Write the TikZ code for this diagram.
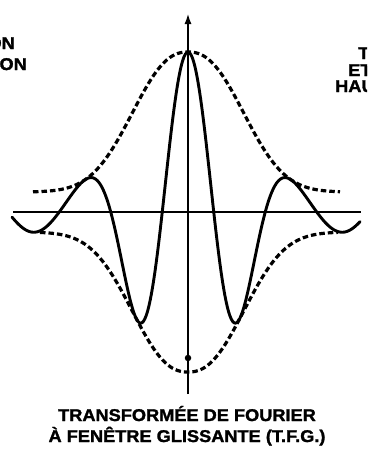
\documentclass[tikz,border=0pt]{standalone}
\usepackage{fontspec}
\setmainfont{Liberation Sans}[BoldFeatures={FakeBold=1.6, FakeStretch=1.07}]
\usetikzlibrary{arrows.meta}
\tikzset{
  declare function={
    env(\t)=20+140*exp(-((abs(\t)+0.01)/70.6)^2.36);
    wav(\t)=env(\t)*cos(3.49515*\t);
  },
  curve/.style={line width=2.9pt, line join=round, line cap=round},
  envline/.style={line width=3.2pt, dash pattern=on 5.5pt off 3pt},
  axis/.style={line width=2.3pt},
  lbl/.style={font=\fontsize{17}{20}\selectfont\bfseries, inner sep=0pt, text=black},
}
\begin{document}
\begin{tikzpicture}[x=1pt,y=-1pt]
\useasboundingbox (0,0) rectangle (367,455);
\fill[white] (0,0) rectangle (367,455);
\clip (0,0) rectangle (367,455);
% axes
\coordinate (xl) at (13,212);
\coordinate (xr) at (361,212);
\coordinate (yb) at (188,394);
\coordinate (yt) at (188,13);
\draw[axis] (xl) -- (xr);
\draw[axis, -{Latex[length=11pt,width=7pt]}] (yb) -- (yt);
\node[fill=black, circle, inner sep=0pt, minimum size=6.5pt] (bead) at (188,358) {};
% envelope
\draw[envline] plot[domain=-155:152, samples=120, smooth, variable=\t] ({188+\t},{212-env(\t)});
\draw[envline] plot[domain=-148:150, samples=120, smooth, variable=\t] ({188+\t},{212+env(\t)});
% wavelet
\draw[curve] plot[domain=-176:172, samples=250, smooth, variable=\t] ({188+\t},{212-wav(\t)});
% texts
\node[lbl, anchor=base east] (tl1) at (15,49) {ON};
\node[lbl, anchor=base east] (tl2) at (27,70) {ION};
\node[lbl, anchor=base west] (tr1) at (358,59) {T};
\node[lbl, anchor=base west] (tr2) at (348,76) {ET};
\node[lbl, anchor=base west] (tr3) at (335,92) {HAU};
\node[lbl, anchor=base] (b1) at (187,421) {TRANSFORMÉE DE FOURIER};
\node[lbl, anchor=base] (b2) at (187,442) {À FENÊTRE GLISSANTE (T.F.G.)};
\end{tikzpicture}
\end{document}
